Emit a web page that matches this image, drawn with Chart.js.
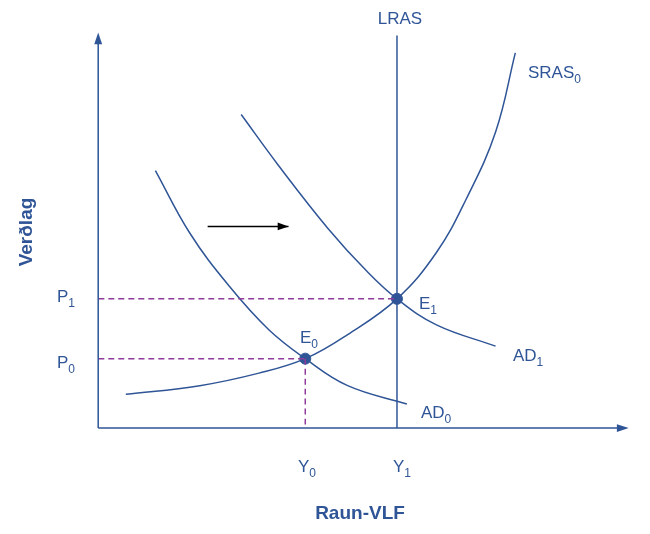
<!DOCTYPE html>
<html><head><meta charset="utf-8">
<script src="https://cdn.jsdelivr.net/npm/chart.js@4/dist/chart.umd.min.js"></script>
<style>html,body{margin:0;padding:0;background:#fff}</style>
</head><body>
<canvas id="c" width="650" height="534"></canvas>
<script>
// coordinates: x = output (Raun-VLF), y = price level (Verðlag)
const sras0 = [[28,35],[103,44],[163,57],[210,72],[253,97],[303,134],[343,182],[373,237],[403,307],[423,389]];
const ad0 = [[58,267],[93,202],[133,147],[173,102],[210,72],[253,44],[313,25]];
const ad1 = [[145,325],[183,272],[233,207],[273,162],[303,134],[343,107],[403,85]];
const lras = [[303,0],[303,407]];
const equilibria = [[210,72],[303,134]];
const p1Line = [[0,134],[303,134]];
const p0Line = [[0,72],[210,72]];
const y0Line = [[210,72],[210,0]];
const shiftArrow = [[111,209],[193,209]];
const BLUE = '#2f5597', PURPLE = '#8e3b9c';
const pts = a => a.map(p => ({x:p[0], y:p[1]}));
const line = (d, c, w, dash) => ({type:'line', data:pts(d), borderColor:c, borderWidth:w, borderDash:dash||[], pointRadius:0, tension:0.4, fill:false});
const overlay = {
  id:'overlay',
  afterDatasetsDraw(chart){
    const {ctx, scales:{x, y}} = chart;
    const X = v => x.getPixelForValue(v), Y = v => y.getPixelForValue(v);
    ctx.save();
    ctx.strokeStyle = BLUE; ctx.fillStyle = BLUE; ctx.lineWidth = 1.5;
    ctx.beginPath(); ctx.moveTo(X(0), Y(0)); ctx.lineTo(X(532), Y(0)); ctx.moveTo(X(0), Y(0)); ctx.lineTo(X(0), Y(402)); ctx.stroke();
    ctx.beginPath(); ctx.moveTo(X(538), Y(0)); ctx.lineTo(X(526), Y(4)); ctx.lineTo(X(526), Y(-4)); ctx.fill();
    ctx.beginPath(); ctx.moveTo(X(0), Y(410)); ctx.lineTo(X(-4), Y(398)); ctx.lineTo(X(4), Y(398)); ctx.fill();
    ctx.fillStyle = '#000';
    ctx.beginPath(); ctx.moveTo(X(193), Y(209)); ctx.lineTo(X(182), Y(213)); ctx.lineTo(X(182), Y(205)); ctx.fill();
    ctx.fillStyle = BLUE; ctx.textBaseline = 'alphabetic';
    const lab = (t, s, px, py, al) => {
      ctx.font = '17px Arial, "Liberation Sans", sans-serif'; ctx.textAlign = 'left';
      const w1 = ctx.measureText(t).width; ctx.font = '12px Arial, "Liberation Sans", sans-serif';
      const w2 = s ? ctx.measureText(s).width : 0;
      let sx = al === 'center' ? px - (w1 + w2) / 2 : px;
      ctx.font = '17px Arial, "Liberation Sans", sans-serif'; ctx.fillText(t, sx, py);
      if (s) { ctx.font = '12px Arial, "Liberation Sans", sans-serif'; ctx.fillText(s, sx + w1, py + 5); }
    };
    lab('LRAS', '', 400, 24, 'center');
    lab('SRAS', '0', 528, 78);
    lab('AD', '1', 513, 361);
    lab('AD', '0', 421, 418);
    lab('E', '0', 300, 343);
    lab('E', '1', 419, 309);
    lab('P', '1', 57, 302);
    lab('P', '0', 57, 368);
    lab('Y', '0', 307, 472, 'center');
    lab('Y', '1', 402, 472, 'center');
    ctx.font = 'bold 19px Arial, "Liberation Sans", sans-serif'; ctx.textAlign = 'center';
    ctx.fillText('Raun-VLF', 360, 519);
    ctx.save(); ctx.translate(32, 232); ctx.rotate(-Math.PI / 2); ctx.fillText('Verðlag', 0, 0); ctx.restore();
    ctx.restore();
  }
};
new Chart(document.getElementById('c'), {
  type:'line',
  data:{datasets:[
    line(p1Line, PURPLE, 1.5, [6,4]),
    line(p0Line, PURPLE, 1.5, [6,4]),
    line(y0Line, PURPLE, 1.5, [6,4]),
    line(lras, BLUE, 1.5),
    line(sras0, BLUE, 1.5),
    line(ad0, BLUE, 1.5),
    line(ad1, BLUE, 1.5),
    line(shiftArrow, '#000', 1.5),
    {type:'scatter', data:pts(equilibria), pointRadius:5.5, pointBackgroundColor:BLUE, pointBorderColor:BLUE, showLine:false}
  ]},
  options:{
    responsive:false, animation:false, events:[],
    layout:{padding:0},
    plugins:{legend:{display:false}, tooltip:{enabled:false}},
    scales:{
      x:{type:'linear', min:-93, max:553, display:false},
      y:{type:'linear', min:-103, max:437, display:false}
    }
  },
  plugins:[overlay]
});
</script>
</body></html>
